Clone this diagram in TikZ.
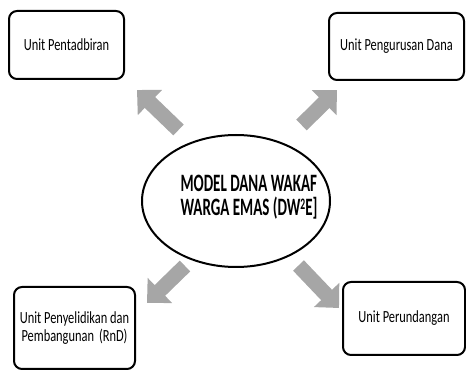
\documentclass[tikz,border=0pt]{standalone}
\usepackage{fontspec}
\setmainfont{Carlito}
\usetikzlibrary{shapes.geometric,arrows.meta}
\definecolor{arrowgray}{RGB}{166,166,166}
\begin{document}
\begin{tikzpicture}[x=1pt,y=-1pt,
  unitbox/.style={draw=black,line width=2pt,rounded corners=8pt,inner sep=0pt,align=center,
    font=\fontsize{17}{17.5}\selectfont},
  modelshape/.style={draw=black,line width=2pt,ellipse,inner sep=0pt},
  titletext/.style={align=left,inner sep=0pt,font=\fontsize{25}{24}\bfseries},
  bigarrow/.style={arrowgray,line width=15pt,-{Triangle[length=18pt,width=34pt]}},
]
\useasboundingbox (0,0) rectangle (466,371);
\newcommand{\sx}[1]{\scalebox{0.73}[1]{#1}}
\newcommand{\tx}[1]{\scalebox{0.6}[1]{#1}}

\node[unitbox,minimum width=115pt,minimum height=68pt] (pent) at (66.5,45) {\sx{Unit Pentadbiran}};
\node[unitbox,minimum width=135pt,minimum height=67pt] (urus) at (396.5,46.5) {\sx{Unit Pengurusan Dana}};
\node[unitbox,minimum width=121pt,minimum height=82pt] (rnd) at (74.5,328) {\sx{Unit Penyelidikan dan}\\\sx{Pembangunan\hspace{3pt} (RnD)}};
\node[unitbox,minimum width=122pt,minimum height=73pt] (undang) at (404,318.5) {\sx{Unit Perundangan}};

\node[modelshape,minimum width=188pt,minimum height=132pt] (model) at (236,201) {};
\node[titletext] (title) at (249,197) {\tx{MODEL DANA WAKAF}\\\tx{WARGA EMAS (DW\raisebox{6pt}{\fontsize{16}{16}\selectfont 2}E]}};

\coordinate (a1s) at (178.5,130); \coordinate (a1e) at (137,90);
\coordinate (a2s) at (301.5,125); \coordinate (a2e) at (337,90);
\coordinate (a3s) at (185,266);   \coordinate (a3e) at (147,303);
\coordinate (a4s) at (298.5,265.5); \coordinate (a4e) at (339,308);

\draw[bigarrow] (a1s) -- (a1e);
\draw[bigarrow] (a2s) -- (a2e);
\draw[bigarrow] (a3s) -- (a3e);
\draw[bigarrow] (a4s) -- (a4e);
\end{tikzpicture}
\end{document}
